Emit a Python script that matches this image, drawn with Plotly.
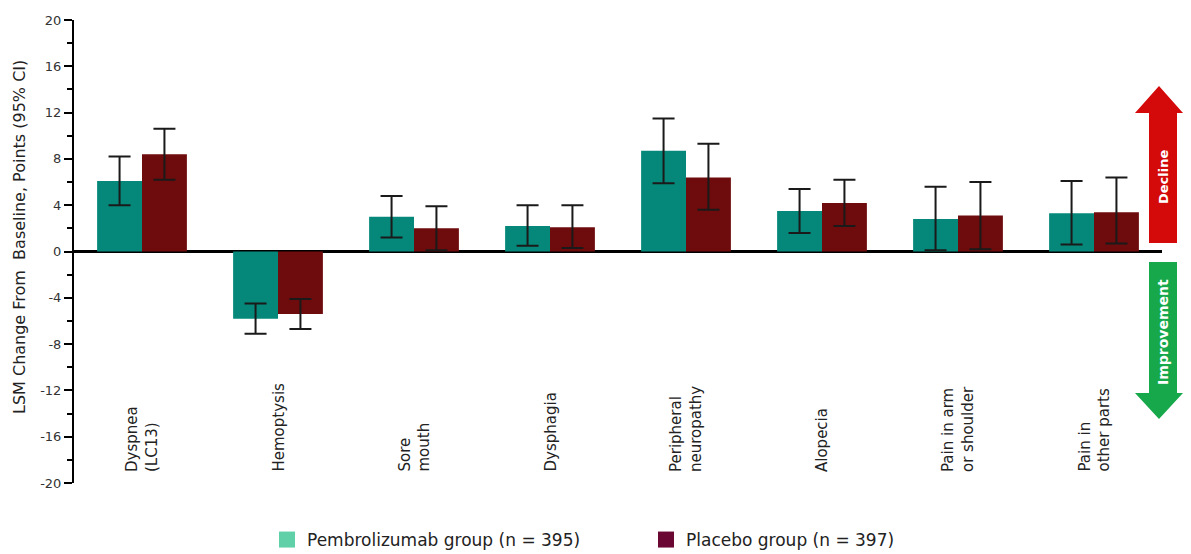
import plotly.graph_objects as go

# ---------------- data ----------------
categories = ["Dyspnea (LC13)", "Hemoptysis", "Sore mouth", "Dysphagia",
              "Peripheral neuropathy", "Alopecia", "Pain in arm or shoulder",
              "Pain in other parts"]
category_labels = ["Dyspnea<br>(LC13)", "Hemoptysis", "Sore<br>mouth", "Dysphagia",
                   "Peripheral<br>neuropathy", "Alopecia", "Pain in arm<br>or shoulder",
                   "Pain in<br>other parts"]

pembro_mean = [6.1, -5.8, 3.0, 2.2, 8.7, 3.5, 2.8, 3.3]
pembro_low = [4.0, -7.1, 1.2, 0.5, 5.9, 1.6, 0.1, 0.6]
pembro_high = [8.2, -4.5, 4.8, 4.0, 11.5, 5.4, 5.6, 6.1]

placebo_mean = [8.4, -5.4, 2.0, 2.1, 6.4, 4.2, 3.1, 3.4]
placebo_low = [6.2, -6.7, 0.1, 0.3, 3.6, 2.2, 0.2, 0.7]
placebo_high = [10.6, -4.1, 3.9, 4.0, 9.3, 6.2, 6.0, 6.4]

series_names = ["Pembrolizumab group (n = 395)", "Placebo group (n = 397)"]
y_ticks = [-20, -16, -12, -8, -4, 0, 4, 8, 12, 16, 20]
y_tick_text = ["-20", "-16", "-12", "-8", "-4", "0", "4", "8", "12", "16", "20"]
y_title = "LSM Change From\u00a0 Baseline, Points (95% CI)"

# ---------------- style ----------------
OFF = 8                      # page body margin
W, H = 1191 - OFF, 554 - OFF
ML, MR, MT, MB = 74 - OFF, 29, 20 - OFF, 71
PW, PH = W - ML - MR, H - MT - MB
FONT = "DejaVu Sans"
TEAL, MAROON = "#05887a", "#6e0b0d"
TEAL_SW, MAROON_SW = "#5fd0a8", "#6a0833"


def px(xp):  # page x -> paper
    return (xp - OFF - ML) / PW


def py(yp):  # page y -> paper
    return (MT + PH - (yp - OFF)) / PH


def err(mean, lo, hi, color):
    return dict(type="data", symmetric=False,
                array=[h - m for m, h in zip(mean, hi)],
                arrayminus=[m - l for m, l in zip(mean, lo)],
                color=color, thickness=2, width=11)


fig = go.Figure()
fig.add_trace(go.Bar(x=categories, y=pembro_mean, name=series_names[0],
                     marker=dict(color=TEAL, line=dict(width=0)),
                     error_y=err(pembro_mean, pembro_low, pembro_high, "#1a1a1a"),
                     showlegend=False))
fig.add_trace(go.Bar(x=categories, y=placebo_mean, name=series_names[1],
                     marker=dict(color=MAROON, line=dict(width=0)),
                     error_y=err(placebo_mean, placebo_low, placebo_high, "#1a1a1a"),
                     showlegend=False))
# legend swatches
fig.add_trace(go.Scatter(x=[None], y=[None], mode="markers", name=series_names[0],
                         marker=dict(symbol="square", size=16, color=TEAL_SW)))
fig.add_trace(go.Scatter(x=[None], y=[None], mode="markers", name=series_names[1],
                         marker=dict(symbol="square", size=16, color=MAROON_SW)))

# category labels (rotated)
annotations = []
for cat, lab in zip(categories, category_labels):
    annotations.append(dict(x=cat, xref="x", y=py(474), yref="paper",
                            text=lab, textangle=-90, showarrow=False,
                            xanchor="center", yanchor="bottom", align="left",
                            font=dict(family=FONT, size=15, color="#222222")))

# y-axis title
annotations.append(dict(x=px(19), y=py(237), xref="paper", yref="paper",
                        xanchor="center", yanchor="middle", text=y_title,
                        textangle=-90, showarrow=False,
                        font=dict(family=FONT, size=16, color="#222222")))

# direction arrows (page pixel outline)
red_arrow = [(1159, 86), (1183, 113), (1177, 113), (1177, 243), (1149, 243),
             (1149, 113), (1135, 113)]
green_arrow = [(1149, 262), (1177, 262), (1177, 393), (1183, 393), (1159, 419),
               (1135, 393), (1149, 393)]


def path(pts):
    return "M " + " L ".join(f"{px(a):.5f},{py(b):.5f}" for a, b in pts) + " Z"


shapes = [
    dict(type="path", xref="paper", yref="paper", path=path(red_arrow),
         fillcolor="#d40a0a", line=dict(width=0), layer="above"),
    dict(type="path", xref="paper", yref="paper", path=path(green_arrow),
         fillcolor="#17a84b", line=dict(width=0), layer="above"),
]
annotations.append(dict(x=px(1163), y=py(177), xref="paper", yref="paper",
                        xanchor="center", yanchor="middle",
                        text="<b>Decline</b>", textangle=-90, showarrow=False,
                        font=dict(family=FONT, size=13, color="white")))
annotations.append(dict(x=px(1163), y=py(332), xref="paper", yref="paper",
                        xanchor="center", yanchor="middle",
                        text="<b>Improvement</b>", textangle=-90, showarrow=False,
                        font=dict(family=FONT, size=14, color="white")))

fig.update_layout(
    width=W, height=H,
    margin=dict(l=ML, r=MR, t=MT, b=MB, autoexpand=False),
    paper_bgcolor="white", plot_bgcolor="white",
    barmode="group", bargap=0.34, bargroupgap=0,
    font=dict(family=FONT, color="#222222"),
    showlegend=True,
    legend=dict(orientation="h", x=px(267), xanchor="left", y=py(540),
                yanchor="middle", font=dict(family=FONT, size=17, color="#222222"),
                entrywidth=334, entrywidthmode="pixels", bgcolor="rgba(0,0,0,0)",
                itemclick=False),
    xaxis=dict(range=[-0.5, 7.5], showticklabels=False, showgrid=False,
               showline=False, zeroline=False, ticks=""),
    yaxis=dict(range=[-20, 20], tickvals=y_ticks, ticktext=y_tick_text,
               ticks="outside", ticklen=8,
               tickwidth=2, tickcolor="black", showline=True, linecolor="black",
               linewidth=2, showgrid=False, zeroline=True, zerolinecolor="black",
               zerolinewidth=3, tickfont=dict(family=FONT, size=13, color="#333333"),
               minor=dict(dtick=2, tick0=0, ticks="outside", ticklen=5, tickwidth=2,
                          tickcolor="black")),
    shapes=shapes,
    annotations=annotations,
)

fig.write_html("out.html")
